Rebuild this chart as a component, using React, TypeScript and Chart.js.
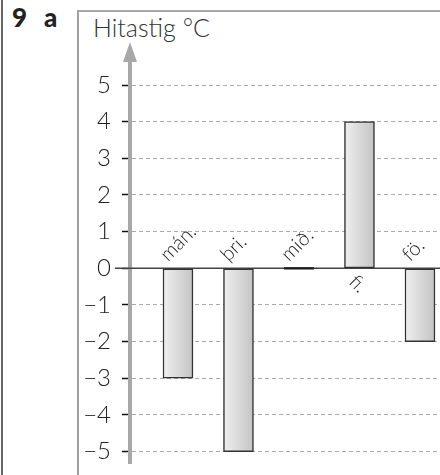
import React, { useEffect, useRef } from "react";
import { Chart, registerables } from "chart.js";

Chart.register(...registerables);

const categories = ["mán.", "þri.", "mið.", "fi.", "fö."];
const temperatures = [-3, -5, 0, 4, -2];
const yTickValues = [-5, -4, -3, -2, -1, 0, 1, 2, 3, 4, 5];
const titleText = "Hitastig °C";

const FONT = "Lato, 'Open Sans', sans-serif";

const fmt = (v: number) => (v < 0 ? "\u2212" + Math.abs(v) : String(v));

const decorPlugin = {
  id: "decor",
  beforeDatasetsDraw(chart: any) {
    const { ctx, chartArea, scales } = chart;
    const ys = scales.y;
    const y0 = ys.getPixelForValue(0);
    // solid zero line
    ctx.save();
    ctx.strokeStyle = "#444";
    ctx.lineWidth = 1.5;
    ctx.beginPath();
    ctx.moveTo(chartArea.left - 15, y0);
    ctx.lineTo(chartArea.right, y0);
    ctx.stroke();
    ctx.restore();
  },
  afterDatasetsDraw(chart: any) {
    const { ctx, chartArea, scales } = chart;
    const xs = scales.x;
    const ys = scales.y;
    // arrow head on top of the y axis
    ctx.save();
    ctx.fillStyle = "#a8a8a8";
    const ax = chartArea.left;
    ctx.beginPath();
    ctx.moveTo(ax, chartArea.top - 18);
    ctx.lineTo(ax - 7, chartArea.top + 2);
    ctx.lineTo(ax + 7, chartArea.top + 2);
    ctx.closePath();
    ctx.fill();
    ctx.restore();

    // category labels, rotated
    const y0 = ys.getPixelForValue(0);
    ctx.save();
    ctx.fillStyle = "#222";
    ctx.font = `300 20px ${FONT}`;
    categories.forEach((name, i) => {
      const cx = xs.getPixelForValue(i);
      ctx.save();
      if (temperatures[i] > 0) {
        ctx.translate(cx, y0 + 3);
        ctx.rotate(Math.PI / 4);
        ctx.textAlign = "left";
        ctx.textBaseline = "top";
      } else {
        ctx.translate(cx - 10, y0 - 6);
        ctx.rotate(-Math.PI / 4);
        ctx.textAlign = "left";
        ctx.textBaseline = "alphabetic";
      }
      ctx.fillText(name, 0, 0);
      ctx.restore();
    });
    ctx.restore();
  },
};

export default function App() {
  const ref = useRef<HTMLCanvasElement | null>(null);

  useEffect(() => {
    if (!ref.current) return;
    const chart = new Chart(ref.current, {
      type: "bar",
      data: {
        datasets: [
          {
            data: categories.map((_, i) => ({ x: i, y: temperatures[i] })),
            barThickness: 30,
            minBarLength: 2,
            borderWidth: 1.5,
            borderColor: "#333",
            borderSkipped: false,
            backgroundColor: (c: any) => {
              const chart = c.chart;
              const xs = chart.scales?.x;
              if (!xs || c.dataIndex == null) return "#dcdcdc";
              if (c.raw && c.raw.y === 0) return "#111";
              const cx = xs.getPixelForValue(c.dataIndex);
              if (!isFinite(cx)) return "#dcdcdc";
              const g = chart.ctx.createLinearGradient(cx - 15, 0, cx + 15, 0);
              g.addColorStop(0, "#efefef");
              g.addColorStop(1, "#c4c4c6");
              return g;
            },
          } as any,
        ],
      },
      options: {
        animation: false,
        responsive: false,
        layout: { padding: { top: 60, bottom: 12, left: 0, right: 0 } },
        plugins: {
          legend: { display: false },
          tooltip: { enabled: false },
        },
        scales: {
          x: {
            type: "linear",
            display: false,
            offset: false,
            min: -0.793,
            max: 4.331,
            grid: { offset: false },
          },
          y: {
            type: "linear",
            min: -5.312,
            max: 5.683,
            afterFit: (s: any) => {
              s.width = 130;
              s.paddingTop = 0;
              s.paddingBottom = 0;
            },
            afterBuildTicks: (axis: any) => {
              axis.ticks = yTickValues.map((v) => ({ value: v }));
            },
            ticks: {
              padding: 11,
              color: "#222",
              font: { family: FONT, size: 24, weight: "300" as any },
              callback: (v: any) => fmt(Number(v)),
            },
            grid: {
              color: "#aaaaaa",
              lineWidth: 1,
              tickColor: "#111",
              tickLength: 8,
              tickWidth: 1.5,
            },
            border: { display: true, color: "#a8a8a8", width: 4, dash: [4, 3] },
          },
        },
      },
      plugins: [decorPlugin],
    });
    return () => chart.destroy();
  }, []);

  return (
    <div
      style={{
        position: "fixed",
        left: 0,
        top: 0,
        width: 440,
        height: 475,
        background: "#fff",
        overflow: "hidden",
        fontFamily: FONT,
      }}
    >
      <div style={{ position: "absolute", left: 1, top: 0, width: 2, height: 475, background: "#666" }} />
      <div
        style={{
          position: "absolute",
          left: 77,
          top: 10,
          width: 400,
          height: 480,
          borderLeft: "2px solid #a0a0a0",
          borderTop: "2px solid #a8a8a8",
        }}
      />
      <span style={{ position: "absolute", left: 12, top: 4, fontSize: 26, fontWeight: 900, lineHeight: 1, color: "#222" }}>9</span>
      <span style={{ position: "absolute", left: 44, top: 4, fontSize: 26, fontWeight: 900, lineHeight: 1, color: "#222" }}>a</span>
      <span style={{ position: "absolute", left: 93, top: 15, fontSize: 25, fontWeight: 300, lineHeight: 1, color: "#333" }}>
        {titleText}
      </span>
      <canvas ref={ref} width={440} height={475} style={{ position: "absolute", left: 0, top: 0 }} />
    </div>
  );
}
